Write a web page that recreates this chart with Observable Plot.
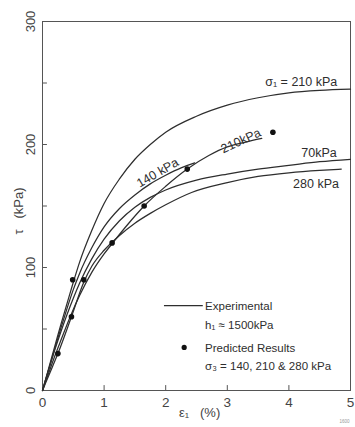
<!DOCTYPE html>
<html><head><meta charset="utf-8">
<script src="https://cdn.jsdelivr.net/npm/d3@7"></script>
<script src="https://cdn.jsdelivr.net/npm/@observablehq/plot@0.6"></script>
<style>
html,body{margin:0;padding:0;background:#fff;}
#chart svg{display:block;}
</style>
</head><body><div id="chart"></div>
<script>
// Experimental curves: strain eps1 (%) and shear stress tau (kPa)
const topEps   = [0,0.1,0.2,0.3,0.4,0.5,0.6,0.8,1.0,1.25,1.5,1.75,2.0,2.5,3.0,3.5,4.0,4.5,5.0];
const topTau   = [0,18,36,54,71,88,104,130,152,172,188,200,210,223,232,238,242,244,245];
const c140Eps  = [0,0.1,0.2,0.3,0.4,0.5,0.6,0.8,1.0,1.25,1.5,1.75,2.0,2.25,2.47];
const c140Tau  = [0,17,34,51,67,82,95,116,133,148,159,168,175,181,185];
const c70Eps   = [0,0.1,0.2,0.3,0.4,0.5,0.6,0.8,1.0,1.25,1.5,1.75,2.0,2.5,3.0,3.5,4.0,4.5,5.0];
const c70Tau   = [0,17,33,48,62,75,87,107,123,138,149,157,163,171,176,180,183,186,188];
const c210Eps  = [0,0.1,0.2,0.3,0.45,0.6,0.8,1.0,1.14,1.4,1.65,2.0,2.35,2.7,3.0,3.3,3.56];
const c210Tau  = [0,14,28,41,60,77,96,111,120,136,150,166,180,191,198,202,205];
const c280Eps  = [0,0.1,0.25,0.47,0.67,0.8,1.0,1.25,1.5,1.75,2.0,2.42,3.0,3.5,4.0,4.5,4.85];
const c280Tau  = [0,12,30,60,88,101,114,126,136,144,151,161,169,174,177,179,180];
// Predicted results
const predEps  = [0.25,0.47,0.49,0.67,1.13,1.65,2.35,3.74];
const predTau  = [30,60,90,90,120,150,180,210];
// Ticks
const xTicks = [0,1,2,3,4,5];
const yTicks = [0,100,200,300];
const yMinor = [50,150,250];

const curves = [
  ["top", topEps, topTau],
  ["140", c140Eps, c140Tau],
  ["70", c70Eps, c70Tau],
  ["210", c210Eps, c210Tau],
  ["280", c280Eps, c280Tau]
];
const lineRows = curves.flatMap(([k, e, t]) => e.map((v, i) => ({curve: k, eps: v, tau: t[i]})));
const predRows = predEps.map((v, i) => ({eps: v, tau: predTau[i]}));

const ink = "#2e2e2e";
const font = "'Liberation Sans', Arial, sans-serif";

const chart = Plot.plot({
  width: 355,
  height: 427,
  marginLeft: 42,
  marginRight: 5,
  marginTop: 21,
  marginBottom: 37,
  style: {fontFamily: font, color: ink, background: "#fff"},
  x: {domain: [0, 5], axis: null},
  y: {domain: [0, 300], axis: null},
  marks: [
    Plot.frame({stroke: "#555", strokeWidth: 1}),
    // inward ticks
    Plot.ruleY([...yTicks.slice(1,3), ...yMinor], {x1: 0, x2: 0.08, stroke: "#555"}),
    Plot.ruleX(xTicks.slice(1,5), {y1: 0, y2: 4, stroke: "#555"}),
    // tick labels
    Plot.text(yTicks, {x: 0, y: d => d, dx: -12, rotate: -90, text: d => String(d), fontSize: 13, fill: "#444"}),
    Plot.text(xTicks, {x: d => d, y: 0, dy: 12, text: d => String(d), fontSize: 13.5, fill: "#444"}),
    // axis titles
    Plot.text(["τ   (kPa)"], {x: -0.39, y: 146, rotate: -90, text: d => d, fontSize: 13, fill: "#444"}),
    Plot.text(["ε₁   (%)"], {x: 2.55, y: 0, dy: 22, text: d => d, fontSize: 13, fill: "#444"}),
    Plot.text(["1600"], {x: 5, y: 0, dy: 31, dx: -6, text: d => d, fontSize: 4.5, fill: "#999"}),
    // curves
    Plot.line(lineRows, {x: "eps", y: "tau", z: "curve", curve: "monotone-x", stroke: ink, strokeWidth: 1.25}),
    Plot.dot(predRows, {x: "eps", y: "tau", r: 2.8, fill: "#111", stroke: "none"}),
    // curve labels
    Plot.text(["σ₁ = 210 kPa"], {x: 4.2, y: 251, text: d => d, fontSize: 12.5, fill: ink}),
    Plot.text(["210kPa"], {x: 3.22, y: 203, rotate: -25, text: d => d, fontSize: 12.5, fill: ink}),
    Plot.text(["140 kPa"], {x: 1.87, y: 177, rotate: -30, text: d => d, fontSize: 12.5, fill: ink}),
    Plot.text(["70kPa"], {x: 4.49, y: 193, text: d => d, fontSize: 12.5, fill: ink}),
    Plot.text(["280 kPa"], {x: 4.44, y: 168, text: d => d, fontSize: 12.5, fill: ink}),
    // legend
    Plot.ruleY([69], {x1: 1.98, x2: 2.61, stroke: ink, strokeWidth: 1.1}),
    Plot.text(["Experimental"], {x: 2.64, y: 68.5, text: d => d, textAnchor: "start", fontSize: 11.5, fill: ink}),
    Plot.text(["h₁ ≈ 1500kPa"], {x: 2.64, y: 53, text: d => d, textAnchor: "start", fontSize: 11.5, fill: ink}),
    Plot.dot([{eps: 2.3, tau: 35}], {x: "eps", y: "tau", r: 2.6, fill: "#111", stroke: "none"}),
    Plot.text(["Predicted Results"], {x: 2.64, y: 34.5, text: d => d, textAnchor: "start", fontSize: 11.5, fill: ink}),
    Plot.text(["σ₃ = 140, 210 & 280 kPa"], {x: 2.64, y: 20, text: d => d, textAnchor: "start", fontSize: 11.5, fill: ink})
  ]
});
document.getElementById("chart").appendChild(chart);
</script>
</body></html>
